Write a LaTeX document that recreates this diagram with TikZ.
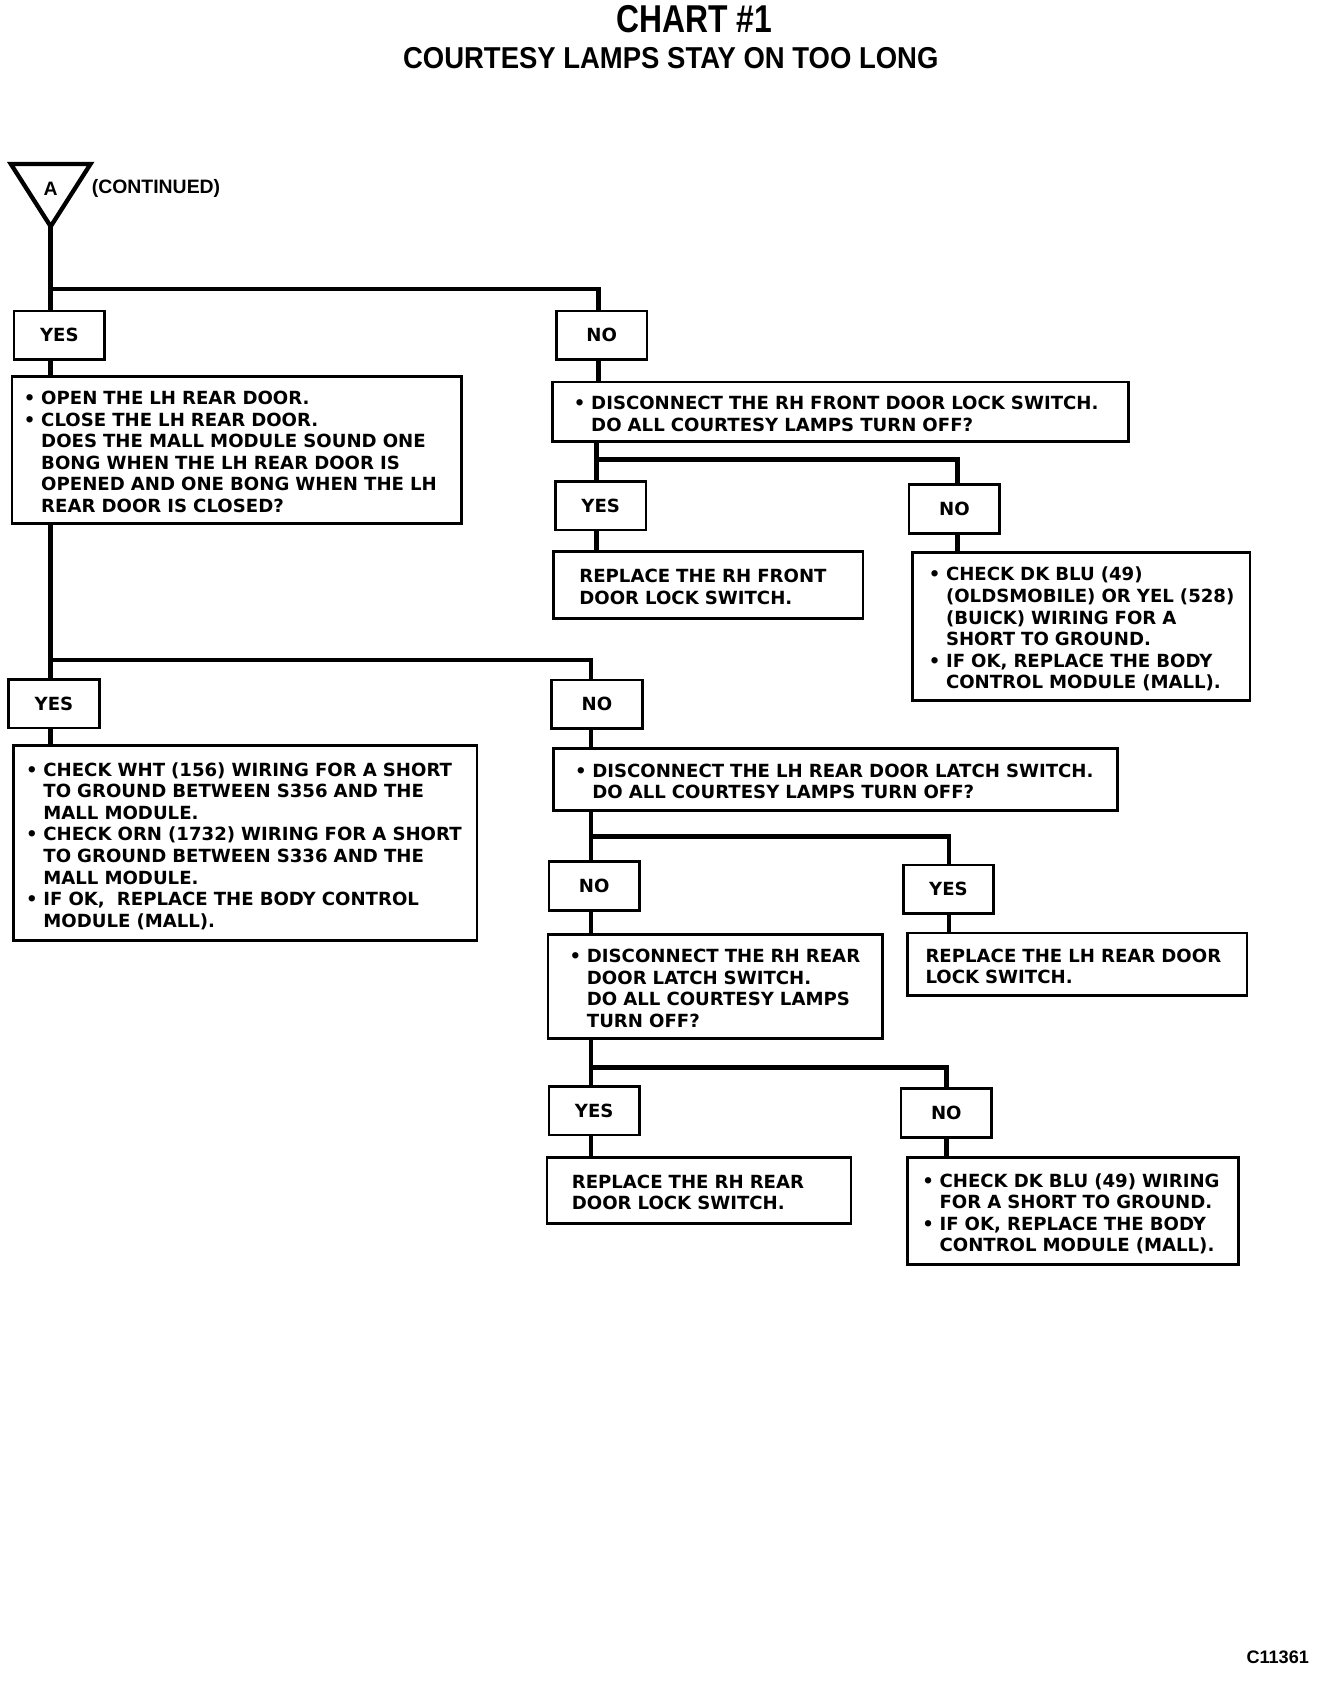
\documentclass[tikz,border=0pt]{standalone}
\usepackage{fontspec}
\setmainfont{DejaVu Sans}
\newfontfamily\headfont{Liberation Sans}
\newcommand{\boxfont}{\fontsize{16.8}{20}\selectfont\bfseries}
\newcommand{\itm}{\makebox[16pt][l]{\textbullet}}
\newcommand{\hang}{\hspace*{16pt}}
\newcommand{\lines}[1]{\raisebox{-4pt}[\height][\depth]{\begin{tabular}{@{}l@{}}#1\end{tabular}}}
\tikzset{
  ansbox/.style={draw, line width=2.5pt, fill=white, minimum width=84pt, minimum height=45pt, inner sep=0pt, font=\boxfont},
  stepbox/.style={draw, line width=2.5pt, fill=white, anchor=north west, align=left, inner ysep=0pt, font=\boxfont},
  link/.style={line width=4.5pt},
}

\begin{document}
\begin{tikzpicture}[x=1pt,y=-1pt]
            \useasboundingbox (0,0) rectangle (1231.5,1569);
            % heading
            \node[] at (644,18) (title) {\headfont\bfseries\fontsize{36}{40}\selectfont\scalebox{0.82}[1]{CHART \#1}};
            \node[] at (622,54) (subtitle) {\headfont\bfseries\fontsize{28}{32}\selectfont\scalebox{0.91}[1]{COURTESY LAMPS STAY ON TOO LONG}};
            % entry point A
            \coordinate (apex) at (47,210);
            \draw[line width=4pt] (10,152) -- (84,152) -- (apex) -- cycle;
            \node[] at (47,175) (a) {\headfont\bfseries\fontsize{18}{20}\selectfont A};
            \node[anchor=west, inner sep=0pt] at (85,175) (cont) {\headfont\bfseries\fontsize{18}{20}\selectfont (CONTINUED)};
            % answers
            \node[ansbox] at (55,311) (yes1) {YES};
            \node[ansbox] at (558,311) (no1) {NO};
            \node[ansbox] at (557,469) (yes2) {YES};
            \node[ansbox] at (885,472) (no2) {NO};
            \node[ansbox] at (50,652.5) (yes3) {YES};
            \node[ansbox] at (553.5,653) (no3) {NO};
            \node[ansbox] at (551,821.5) (no4) {NO};
            \node[ansbox] at (879.5,824.5) (yes4) {YES};
            \node[ansbox] at (551,1030) (yes5) {YES};
            \node[ansbox] at (877.5,1032) (no5) {NO};
            % steps
            \node[stepbox, inner xsep=11pt, text width=395pt, minimum height=136pt] at (10,348) (q1) {\lines{%
                \itm OPEN THE LH REAR DOOR.\\
                \itm CLOSE THE LH REAR DOOR.\\
                \hang DOES THE MALL MODULE SOUND ONE\\
                \hang BONG WHEN THE LH REAR DOOR IS\\
                \hang OPENED AND ONE BONG WHEN THE LH\\
                \hang REAR DOOR IS CLOSED?}};
            \node[stepbox, inner xsep=20pt, text width=494pt, minimum height=55pt] at (511,353) (r1) {\lines{%
                \itm DISCONNECT THE RH FRONT DOOR LOCK SWITCH.\\
                \hang DO ALL COURTESY LAMPS TURN OFF?}};
            \node[stepbox, inner xsep=24pt, text width=239pt, minimum height=62pt] at (512,510) (a1) {\lines{%
                REPLACE THE RH FRONT\\
                DOOR LOCK SWITCH.}};
            \node[stepbox, inner xsep=15pt, text width=283pt, minimum height=137pt] at (845,511) (c1) {\lines{%
                \itm CHECK DK BLU (49)\\
                \hang (OLDSMOBILE) OR YEL (528)\\
                \hang (BUICK) WIRING FOR A\\
                \hang SHORT TO GROUND.\\
                \itm IF OK, REPLACE THE BODY\\
                \hang CONTROL MODULE (MALL).}};
            \node[stepbox, inner xsep=12pt, text width=406pt, minimum height=181pt] at (11,690) (c2) {\lines{%
                \itm CHECK WHT (156) WIRING FOR A SHORT\\
                \hang TO GROUND BETWEEN S356 AND THE\\
                \hang MALL MODULE.\\
                \itm CHECK ORN (1732) WIRING FOR A SHORT\\
                \hang TO GROUND BETWEEN S336 AND THE\\
                \hang MALL MODULE.\\
                \itm IF OK,\ \ REPLACE THE BODY CONTROL\\
                \hang MODULE (MALL).}};
            \node[stepbox, inner xsep=20pt, text width=483pt, minimum height=57pt] at (512,693) (r3) {\lines{%
                \itm DISCONNECT THE LH REAR DOOR LATCH SWITCH.\\
                \hang DO ALL COURTESY LAMPS TURN OFF?}};
            \node[stepbox, inner xsep=20pt, text width=270pt, minimum height=97pt] at (507,865) (r4) {\lines{%
                \itm DISCONNECT THE RH REAR\\
                \hang DOOR LATCH SWITCH.\\
                \hang DO ALL COURTESY LAMPS\\
                \hang TURN OFF?}};
            \node[stepbox, inner xsep=17pt, text width=281pt, minimum height=58pt] at (840,864) (a2) {\lines{%
                REPLACE THE LH REAR DOOR\\
                LOCK SWITCH.}};
            \node[stepbox, inner xsep=23pt, text width=236pt, minimum height=61pt] at (506,1072) (a3) {\lines{%
                REPLACE THE RH REAR\\
                DOOR LOCK SWITCH.}};
            \node[stepbox, inner xsep=14pt, text width=279pt, minimum height=99pt] at (840,1072) (c3) {\lines{%
                \itm CHECK DK BLU (49) WIRING\\
                \hang FOR A SHORT TO GROUND.\\
                \itm IF OK, REPLACE THE BODY\\
                \hang CONTROL MODULE (MALL).}};
            \node[anchor=east, inner sep=0pt] at (1214,1537) (code) {\headfont\bfseries\fontsize{16.8}{20}\selectfont C11361};
            % branch points
            \coordinate (j1l) at (47,268);
            \coordinate (j1r) at (555,268);
            \coordinate (j2l) at (553,426);
            \coordinate (j2r) at (888,426);
            \coordinate (j3l) at (47,612);
            \coordinate (j3r) at (548,612);
            \coordinate (j4l) at (548,776);
            \coordinate (j4r) at (880,776);
            \coordinate (j5l) at (548,990);
            \coordinate (j5r) at (878,990);
            % connectors
            \draw[link] (apex) -- (j1l) -- (j1r) -- (j1r |- no1.north);
            \draw[link] (j1l) -- (j1l |- yes1.north);
            \draw[link] (j1l |- yes1.south) -- (j1l |- q1.north);
            \draw[link] (j1r |- no1.south) -- (j1r |- r1.north);
            \draw[link] (j2l |- r1.south) -- (j2l) -- (j2r) -- (j2r |- no2.north);
            \draw[link] (j2l) -- (j2l |- yes2.north);
            \draw[link] (j2l |- yes2.south) -- (j2l |- a1.north);
            \draw[link] (j2r |- no2.south) -- (j2r |- c1.north);
            \draw[link] (j3l |- q1.south) -- (j3l) -- (j3r) -- (j3r |- no3.north);
            \draw[link] (j3l) -- (j3l |- yes3.north);
            \draw[link] (j3l |- yes3.south) -- (j3l |- c2.north);
            \draw[link] (j3r |- no3.south) -- (j3r |- r3.north);
            \draw[link] (j4l |- r3.south) -- (j4l) -- (j4r) -- (j4r |- yes4.north);
            \draw[link] (j4l) -- (j4l |- no4.north);
            \draw[link] (j4l |- no4.south) -- (j4l |- r4.north);
            \draw[link] (j4r |- yes4.south) -- (j4r |- a2.north);
            \draw[link] (j5l |- r4.south) -- (j5l) -- (j5r) -- (j5r |- no5.north);
            \draw[link] (j5l) -- (j5l |- yes5.north);
            \draw[link] (j5l |- yes5.south) -- (j5l |- a3.north);
            \draw[link] (j5r |- no5.south) -- (j5r |- c3.north);
        \end{tikzpicture}
\end{document}
